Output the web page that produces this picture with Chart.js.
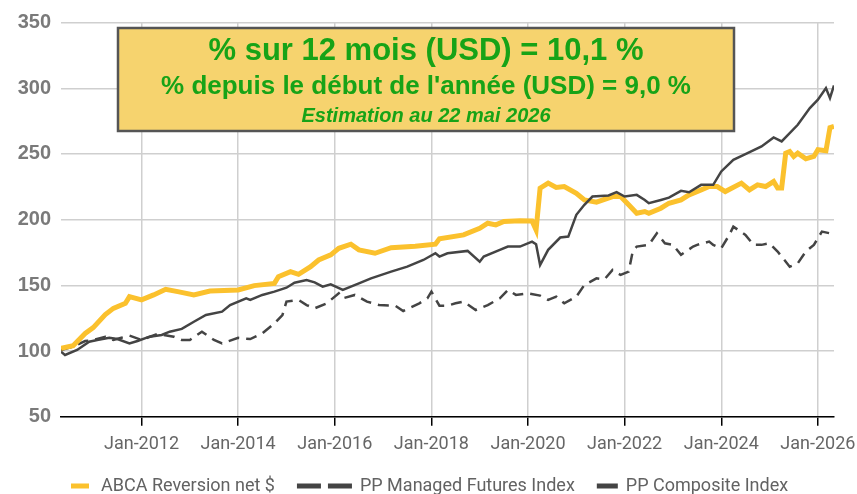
<!DOCTYPE html>
<html>
<head>
<meta charset="utf-8">
<script src="https://cdn.jsdelivr.net/npm/chart.js@4.4.1/dist/chart.umd.min.js"></script>
<style>
  html, body { margin: 0; padding: 0; background: #fff; }
</style>
</head>
<body>
<canvas id="perfChart" width="857" height="494"></canvas>
<script>
// values (month, index level)
const abcaMonths = ["2010-05","2010-08","2010-11","2011-01","2011-04","2011-06","2011-09","2011-10","2012-01","2012-04","2012-07","2012-10","2013-02","2013-06","2014-01","2014-05","2014-10","2014-11","2015-02","2015-04","2015-07","2015-09","2015-12","2016-02","2016-05","2016-07","2016-11","2017-03","2017-09","2018-02","2018-03","2018-09","2019-01","2019-03","2019-05","2019-07","2019-11","2020-02","2020-03","2020-04","2020-06","2020-08","2020-10","2021-01","2021-03","2021-06","2021-10","2021-12","2022-02","2022-04","2022-06","2022-07","2022-10","2022-12","2023-03","2023-05","2023-08","2023-10","2023-12","2024-02","2024-06","2024-08","2024-10","2024-12","2025-02","2025-03","2025-04","2025-05","2025-06","2025-07","2025-08","2025-10","2025-12","2026-01","2026-03","2026-04","2026-05"];
const abcaValues = [102,104,113.4,117.8,127.7,132.5,136.3,141.4,138.9,142.7,147,145.2,142.7,145.7,146.5,149.8,151.5,156.6,160.4,158.4,164.2,169.3,173.2,178.2,181.3,177,174.4,178.7,179.7,181.3,185.4,188.4,193.4,197.3,196,198.6,199.1,199,192.2,224,227.8,224.5,225.2,220.1,215,213.3,217.6,217.6,211.3,204.9,206.2,204.9,208.7,212.5,215,218.9,222.7,225.2,225.2,221.4,227.8,222.7,226.5,225.2,229,224,224,250.6,251.9,248.1,250.6,246.3,248.1,253.2,252.4,270,271];

const futuresMonths = ["2010-05","2010-08","2010-11","2011-01","2011-04","2011-06","2011-08","2011-10","2012-01","2012-05","2012-09","2012-11","2013-01","2013-04","2013-07","2013-09","2014-01","2014-04","2014-07","2014-10","2014-12","2015-01","2015-04","2015-06","2015-08","2015-11","2016-02","2016-03","2016-06","2016-09","2016-12","2017-04","2017-06","2017-10","2017-12","2018-01","2018-03","2018-05","2018-07","2018-09","2018-12","2019-03","2019-06","2019-08","2019-10","2020-01","2020-04","2020-06","2020-08","2020-10","2021-01","2021-03","2021-06","2021-08","2021-10","2021-12","2022-02","2022-03","2022-04","2022-07","2022-09","2022-11","2023-01","2023-03","2023-06","2023-07","2023-10","2023-11","2024-01","2024-03","2024-04","2024-07","2024-09","2024-11","2025-01","2025-03","2025-06","2025-08","2025-10","2025-12","2026-02","2026-04","2026-05"];
const futuresValues = [100.8,103.3,107.6,108.4,110.9,108.4,110.1,111.7,108.5,113,110.9,108.4,108.4,114.7,108.4,105.8,110,109.1,113.4,121,127.4,137.6,138.9,135,132.5,136.3,143.9,140.1,142.7,137.6,135,134.5,130.5,136.3,140.1,145.2,134.5,134.5,136.3,137.6,131.2,135,140.1,146.5,142.7,143.9,142.2,138.9,141.4,136.3,141.4,150.3,155.3,154.6,161.7,157.9,160.4,175.7,179.5,180.8,189.6,182,180.8,173.2,179.5,180.8,183.3,180.8,178.2,188.4,194.7,188.4,180.8,180.8,182,175.7,164.2,166.8,175.7,180.8,190.9,189.6,190.9];

const compositeMonths = ["2010-05","2010-06","2010-09","2010-12","2011-02","2011-05","2011-07","2011-10","2011-12","2012-03","2012-06","2012-08","2012-11","2013-02","2013-05","2013-09","2013-11","2014-03","2014-04","2014-07","2014-10","2015-01","2015-03","2015-06","2015-08","2015-10","2015-12","2016-03","2016-05","2016-07","2016-10","2017-03","2017-07","2017-11","2018-02","2018-03","2018-05","2018-10","2019-01","2019-02","2019-06","2019-08","2019-11","2020-02","2020-03","2020-04","2020-06","2020-09","2020-11","2021-01","2021-03","2021-05","2021-09","2021-11","2022-01","2022-04","2022-06","2022-07","2022-10","2022-12","2023-03","2023-05","2023-08","2023-11","2024-01","2024-04","2024-07","2024-11","2025-02","2025-04","2025-08","2025-11","2026-01","2026-03","2026-04","2026-05"];
const compositeValues = [99.5,97,100.8,107.1,108.4,110.1,109.1,105.8,107.6,110.9,112.2,114.7,116.8,122.3,127.4,130,135,140.1,138.9,142.7,145.2,148.2,152,154.1,152.3,149,150.8,146.5,149,151.5,155.3,160.4,164.2,169.3,174.4,171.9,174.4,176.2,168,171.9,177,179.5,179.5,183.3,181.3,165.5,177,186.4,187.1,203.7,211.3,217.6,218.4,220.9,217.6,218.9,215,212.5,215,216.8,221.9,220.9,226.5,226.5,236.7,245.6,249.8,255.7,262.6,259.5,272.2,284.9,291.3,300.2,292.5,302.2];

const yearTicks = [2012, 2014, 2016, 2018, 2020, 2022, 2024, 2026];
const seriesNames = ["ABCA Reversion net $", "PP Managed Futures Index", "PP Composite Index"];
const boxLines = ["% sur 12 mois (USD) = 10,1 %", "% depuis le début de l'année (USD) = 9,0 %", "Estimation au 22 mai 2026"];

const toYear = m => +m.slice(0, 4) + (+m.slice(5, 7) - 1) / 12;
const points = (months, values) => months.map((m, i) => ({ x: toYear(m), y: values[i] }));

const yellow = "#FBC12D";
const dark = "#444444";

// yellow performance box over the chart
const boxPlugin = {
  id: "perfBox",
  afterDraw(chart) {
    const c = chart.ctx;
    c.save();
    c.fillStyle = "#F6D36E";
    c.fillRect(118, 28, 616, 103);
    c.strokeStyle = "#555";
    c.lineWidth = 2.5;
    c.strokeRect(118, 28, 616, 103);
    c.fillStyle = "#17A317";
    c.textAlign = "center";
    c.textBaseline = "middle";
    c.font = "bold 31px 'Liberation Sans', Arial, sans-serif";
    c.fillText(boxLines[0], 426, 51);
    c.font = "bold 26px 'Liberation Sans', Arial, sans-serif";
    c.fillText(boxLines[1], 426, 87);
    c.font = "italic bold 20px 'Liberation Sans', Arial, sans-serif";
    c.fillText(boxLines[2], 426, 116);
    c.restore();
  }
};

// legend row drawn along the bottom
const legendPlugin = {
  id: "bottomLegend",
  afterDraw(chart) {
    const c = chart.ctx;
    c.save();
    c.font = "18px Roboto, sans-serif";
    c.textBaseline = "middle";
    const swatchW = [18, 55, 21];
    const gaps = [12, 8, 8];
    const spacing = 22;
    let x = 71;
    const y = 486;
    seriesNames.forEach((t, i) => {
      c.fillStyle = i === 0 ? yellow : dark;
      if (i === 1) {
        c.fillRect(x, y - 2.5, 24, 5);
        c.fillRect(x + 31, y - 2.5, 24, 5);
      } else {
        c.fillRect(x, y - 2.5, swatchW[i], 5);
      }
      x += swatchW[i] + gaps[i];
      c.fillStyle = "#626262";
      c.fillText(t, x, y);
      x += c.measureText(t).width + spacing;
    });
    c.restore();
  }
};

new Chart(document.getElementById("perfChart"), {
  type: "line",
  data: {
    datasets: [
      { label: seriesNames[2], data: points(compositeMonths, compositeValues), borderColor: dark, borderWidth: 2.5, pointRadius: 0, tension: 0 },
      { label: seriesNames[0], data: points(abcaMonths, abcaValues), borderColor: yellow, borderWidth: 5, pointRadius: 0, tension: 0 },
      { label: seriesNames[1], data: points(futuresMonths, futuresValues), borderColor: dark, borderWidth: 2.5, borderDash: [11, 7], pointRadius: 0, tension: 0 }
    ]
  },
  options: {
    responsive: false,
    animation: false,
    layout: { padding: { top: 22.6, right: 23, left: 0, bottom: 0 } },
    plugins: { legend: { display: false }, tooltip: { enabled: false } },
    scales: {
      x: {
        type: "linear",
        min: 2010 + 4 / 12,
        max: 2026 + 4 / 12,
        afterBuildTicks: axis => { axis.ticks = yearTicks.map(v => ({ value: v })); },
        afterFit: axis => { axis.height = 77.3; axis.paddingLeft = 0; axis.paddingRight = 0; },
        ticks: {
          callback: v => "Jan-" + v,
          font: { family: "Roboto", size: 18 },
          color: "#666",
          padding: 8,
          maxRotation: 0,
          autoSkip: false
        },
        grid: { color: "#cfcfcf", lineWidth: 1.5, tickColor: "#000", tickLength: 9 },
        border: { color: "#000", width: 1.5 }
      },
      y: {
        min: 50,
        max: 350,
        afterFit: axis => { axis.width = 61; axis.paddingTop = 0; axis.paddingBottom = 0; },
        ticks: {
          stepSize: 50,
          font: { family: "'Liberation Sans', Arial", weight: "bold", size: 20 },
          color: "#7a7a7a",
          padding: 10
        },
        grid: { color: "#cfcfcf", lineWidth: 1.5, drawTicks: false },
        border: { display: false }
      }
    }
  },
  plugins: [boxPlugin, legendPlugin]
});
</script>
</body>
</html>
